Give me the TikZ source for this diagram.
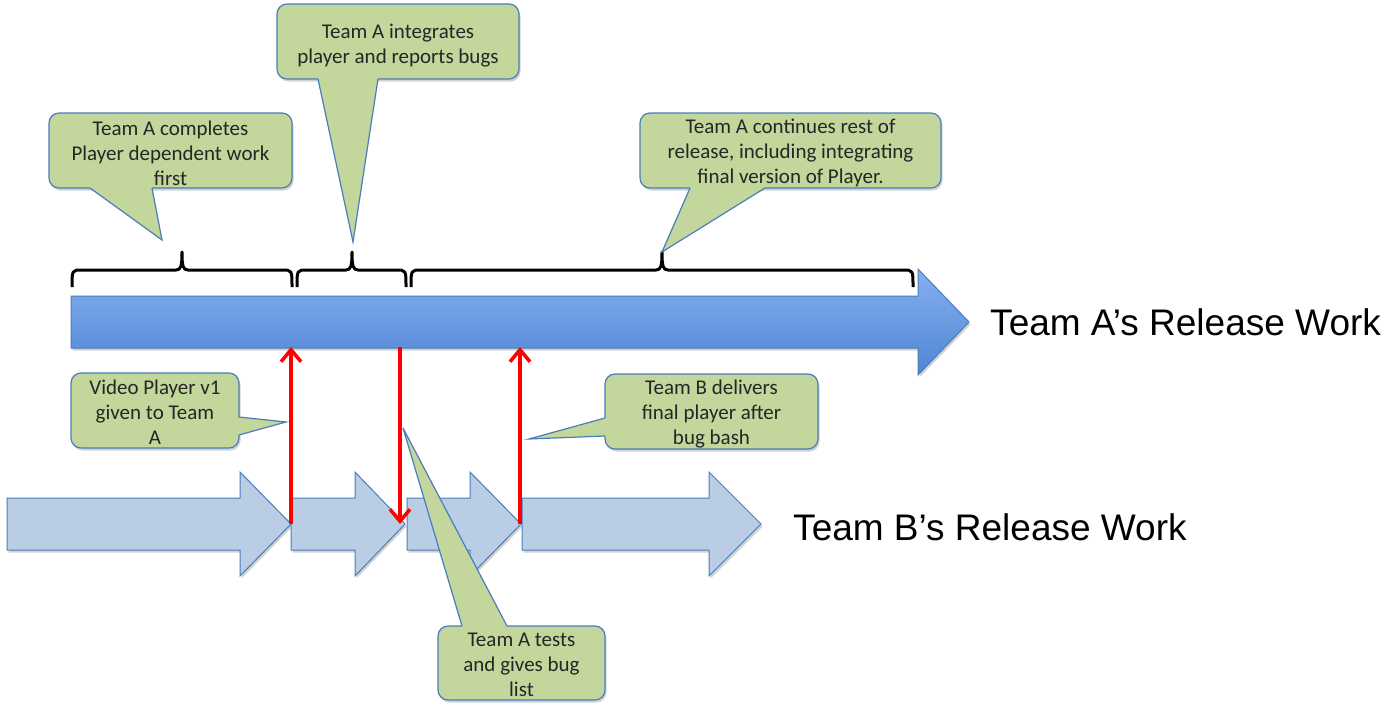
\documentclass[tikz,border=0pt]{standalone}
\usepackage{fontspec}
\setmainfont{Carlito}
\newfontfamily\labelfont{Liberation Sans}
\usetikzlibrary{arrows.meta,shadows}
\definecolor{cfill}{HTML}{C3D69B}
\definecolor{cline}{HTML}{4A7EBB}
\definecolor{afill}{HTML}{B9CDE5}
\definecolor{btop}{HTML}{86AFF0}
\definecolor{bbot}{HTML}{4F86D4}
\definecolor{ctext}{HTML}{262626}
\begin{document}
\begin{tikzpicture}[x=1pt,y=-1pt,
 softshadow/.style={drop shadow={shadow xshift=1.5pt, shadow yshift=-2.5pt, fill=black, opacity=0.18}},
 callout/.style={draw=cline, fill=cfill, line width=1.2pt, rounded corners=10pt, inner sep=0pt, softshadow},
 ctext/.style={align=center, text=ctext, inner sep=0pt, font=\fontsize{21}{25}\selectfont},
 ptrfill/.style={fill=cfill},
 ptrline/.style={draw=cline, line width=1.2pt, line join=miter},
 barrow/.style={draw=cline, fill=afill, line width=1pt, line join=miter, softshadow},
 bigarrow/.style={draw=cline, line width=1pt, top color=btop, bottom color=bbot},
 bracket/.style={draw=black, line width=3pt, line join=round},
 redarrow/.style={draw=red, line width=3.5pt, -{Straight Barb[length=12pt,width=20pt]}},
 biglabel/.style={font=\labelfont\fontsize{37}{44}\selectfont, inner sep=0pt, anchor=base west}
]
\useasboundingbox (0,0) rectangle (1388,720);

% Team A's big arrow
\fill[black, opacity=0.18] (72.5,298.5) -- (919.5,298.5) -- (919.5,271.5) -- (970.5,324.5) -- (919.5,377.5) -- (919.5,350.5) -- (72.5,350.5) -- cycle;
\draw[bigarrow] (71,296) -- (918,296) -- (918,269) -- (969,322) -- (918,375) -- (918,348) -- (71,348) -- cycle;
\node[biglabel] (la) at (990,335) {Team A’s Release Work};

% braces
\draw[bracket] (72,287) .. controls (72,270) .. (82,270) -- (176,270) .. controls (181,270) and (182,266) .. (182,252) .. controls (182,266) and (183,270) .. (188,270) -- (282,270) .. controls (292,270) .. (292,287);
\draw[bracket] (297,287) .. controls (297,270) .. (307,270) -- (346,270) .. controls (351,270) and (352,266) .. (352,252) .. controls (352,266) and (353,270) .. (358,270) -- (396,270) .. controls (406,270) .. (406,287);
\draw[bracket] (411,287) .. controls (411,270) .. (421,270) -- (656,270) .. controls (661,270) and (662,266) .. (662,252) .. controls (662,266) and (663,270) .. (668,270) -- (903,270) .. controls (913,270) .. (913,287);

% Team B's arrows
\draw[barrow] (7,498) -- (240,498) -- (240,472) -- (291,524) -- (240,576) -- (240,550) -- (7,550) -- cycle;
\draw[barrow] (291,498) -- (355,498) -- (355,472) -- (405,524) -- (355,576) -- (355,550) -- (291,550) -- cycle;
\draw[barrow] (407,498) -- (470,498) -- (470,472) -- (521,524) -- (470,576) -- (470,550) -- (407,550) -- cycle;
\draw[barrow] (522,498) -- (709,498) -- (709,472) -- (761,524) -- (709,576) -- (709,550) -- (522,550) -- cycle;
\node[biglabel] (lb) at (793,540) {Team B’s Release Work};

% red connectors
\coordinate (b1) at (291,524);
\coordinate (a1) at (291,347);
\coordinate (a2) at (400,347);
\coordinate (b2) at (400,524);
\coordinate (b3) at (520,524);
\coordinate (a3) at (520,347);
\draw[redarrow] (b1) -- (a1);
\draw[redarrow] (a2) -- (b2);
\draw[redarrow] (b3) -- (a3);

% callout 1
\node[callout, minimum width=243pt, minimum height=75pt] (c1) at (170.5,150.5) {};
\node[ctext] (c1t) at (170.5,153.5) {Team A completes\\Player dependent work\\first};
\coordinate (p1a) at (90,188); \coordinate (p1b) at (152,188); \coordinate (t1) at (162,240);
\fill[ptrfill] (90,185) -- (p1a) -- (t1) -- (p1b) -- (152,185) -- cycle;
\draw[ptrline] (p1a) -- (t1) -- (p1b);

% callout 2
\node[callout, minimum width=242pt, minimum height=75pt] (c2) at (398,41.5) {};
\node[ctext] (c2t) at (398,46) {Team A integrates\\player and reports bugs};
\coordinate (p2a) at (318,79); \coordinate (p2b) at (378,79); \coordinate (t2) at (353,242);
\fill[ptrfill] (318,76) -- (p2a) -- (t2) -- (p2b) -- (378,76) -- cycle;
\draw[ptrline] (p2a) -- (t2) -- (p2b);

% callout 3
\node[callout, minimum width=301pt, minimum height=75pt] (c3) at (790.5,150.5) {};
\node[ctext] (c3t) at (790.5,153) {Team A continues rest of\\release, including integrating\\final version of Player.};
\coordinate (p3a) at (690,188); \coordinate (p3b) at (765,188); \coordinate (t3) at (662,252);
\fill[ptrfill] (690,185) -- (p3a) -- (t3) -- (p3b) -- (765,185) -- cycle;
\draw[ptrline] (p3a) -- (t3) -- (p3b);

% callout 4
\node[callout, minimum width=168pt, minimum height=75pt] (c4) at (155,410.5) {};
\node[ctext] (c4t) at (155,412.5) {Video Player v1\\given to Team\\A};
\coordinate (p4a) at (239,417); \coordinate (p4b) at (239,435); \coordinate (t4) at (286,422);
\fill[ptrfill] (236,417) -- (p4a) -- (t4) -- (p4b) -- (236,435) -- cycle;
\draw[ptrline] (p4a) -- (t4) -- (p4b);

% callout 5
\node[callout, minimum width=213pt, minimum height=75pt] (c5) at (711.5,411.5) {};
\node[ctext] (c5t) at (711.5,414) {Team B delivers\\final player after\\bug bash};
\coordinate (p5a) at (605,418); \coordinate (p5b) at (605,436); \coordinate (t5) at (529,439);
\fill[ptrfill] (608,418) -- (p5a) -- (t5) -- (p5b) -- (608,436) -- cycle;
\draw[ptrline] (p5a) -- (t5) -- (p5b);

% callout 6
\node[callout, minimum width=167pt, minimum height=74pt] (c6) at (521.5,663) {};
\node[ctext] (c6t) at (521.5,665) {Team A tests\\and gives bug\\list};
\coordinate (p6a) at (462,626); \coordinate (p6b) at (507,626); \coordinate (t6) at (403,428);
\fill[ptrfill] (462,629) -- (p6a) -- (t6) -- (p6b) -- (507,629) -- cycle;
\draw[ptrline] (p6a) -- (t6) -- (p6b);
\end{tikzpicture}
\end{document}
